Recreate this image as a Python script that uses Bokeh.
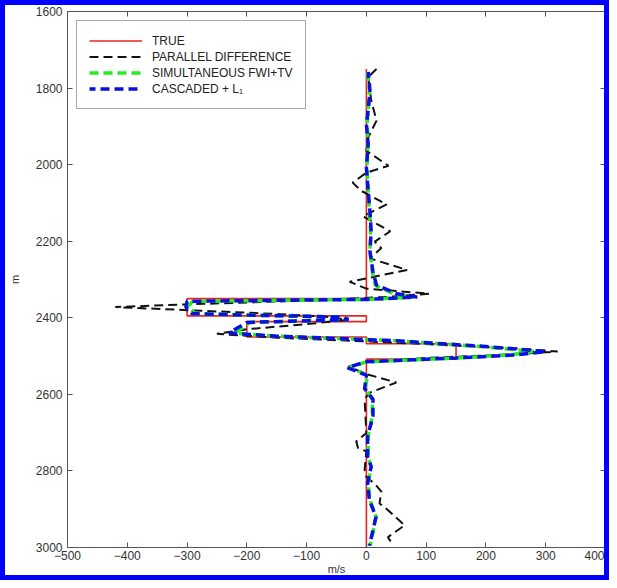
from bokeh.plotting import figure
from bokeh.models import Range1d, LinearAxis, Legend, LegendItem, FixedTicker
from bokeh.embed import file_html
from bokeh.resources import INLINE

x_ticks = [-500, -400, -300, -200, -100, 0, 100, 200, 300, 400]
y_ticks = [1600, 1800, 2000, 2200, 2400, 2600, 2800, 3000]

true_depth = [1750, 2350, 2350, 2395, 2395, 2410, 2410, 2450, 2450, 2468, 2468, 2508, 2508, 3000]
true_vel = [0, 0, -300, -300, 0, 0, -200, -200, 0, 0, 150, 150, 0, 0]

pd_depth = [1750, 1771, 1832, 1885, 1929, 1964, 2003, 2021, 2047, 2069, 2104, 2135, 2174, 2201,
            2218, 2245, 2275, 2288, 2306, 2324, 2337, 2345, 2355, 2365, 2372, 2380, 2390, 2398,
            2406, 2415, 2430, 2442, 2452, 2465, 2480, 2488, 2495, 2505, 2515, 2528, 2547, 2569,
            2596, 2613, 2701, 2723, 2740, 2749, 2797, 2815, 2837, 2854, 2885, 2898, 2942, 2973, 2995]
pd_vel = [17, 3, 8, 17, 3, 0, 37, 0, -23, -8, 34, -6, 40, 14,
          25, 6, 68, 28, -28, 0, 105, 40, -100, -300, -420, -300, -150, -60,
          -35, -90, -200, -250, -150, 50, 250, 320, 250, 100, 0, -30, 0, 50,
          5, -3, 0, -17, -14, 0, -3, 0, 16, 25, 22, 33, 64, 36, 45]

cas_depth = [1758, 1806, 1859, 1894, 1946, 2008, 2069, 2122, 2175, 2227, 2280, 2315, 2337, 2346,
             2352, 2357, 2372, 2389, 2393, 2398, 2405, 2412, 2440, 2448, 2460, 2475, 2488, 2497,
             2505, 2515, 2530, 2550, 2585, 2613, 2657, 2710, 2762, 2789, 2832, 2876, 2920, 2955, 2995]
cas_vel = [3, 6, 3, 0, 3, 0, 3, 6, 8, 6, 11, 17, 51, 85,
           0, -300, -302, -292, -200, -40, -30, -200, -230, -150, 50, 200, 300, 250,
           150, 0, -32, 0, -3, 11, 11, 2, 2, 8, 2, 5, 16, 11, 5]

sim_depth = [1758, 1806, 1859, 1894, 1946, 2008, 2069, 2122, 2175, 2227, 2280, 2315, 2337, 2346,
             2352, 2357, 2372, 2389, 2393, 2398, 2405, 2412, 2440, 2448, 2460, 2475, 2488, 2497,
             2505, 2515, 2530, 2550, 2585, 2613, 2657, 2710, 2762, 2789, 2832, 2876, 2920, 2955, 2995]
sim_vel = [2, 5, 3, 1, 3, 1, 3, 5, 7, 6, 10, 15, 45, 80,
           0, -290, -300, -285, -195, -40, -30, -195, -220, -150, 50, 190, 280, 240,
           150, 0, -28, 2, -2, 10, 10, 3, 3, 8, 3, 6, 16, 12, 6]

FONT = "Liberation Sans"
AX = "#555555"
TXT = "#333333"

p = figure(width=609, height=580, x_range=Range1d(-500, 400), y_range=Range1d(3000, 1600),
           output_backend="svg", toolbar_location=None,
           x_axis_label="m/s", y_axis_label="m")
p.styles = {"border": "5px solid #0000ff"}
p.min_border_left = 59
p.min_border_right = 9
p.min_border_top = 6
p.min_border_bottom = 38
p.xgrid.visible = False
p.ygrid.visible = False
p.outline_line_color = AX
p.background_fill_color = "white"
p.border_fill_color = "white"

p.xaxis.ticker = FixedTicker(ticks=x_ticks)
p.yaxis.ticker = FixedTicker(ticks=y_ticks)
for ax in [p.xaxis[0], p.yaxis[0]]:
    ax.major_tick_in = 5
    ax.major_tick_out = 0
    ax.minor_tick_in = 0
    ax.minor_tick_out = 0
    ax.axis_line_color = AX
    ax.major_tick_line_color = AX
    ax.major_label_text_font = FONT
    ax.major_label_text_font_size = "12px"
    ax.major_label_text_color = TXT
    ax.axis_label_text_font = FONT
    ax.axis_label_text_font_style = "normal"
    ax.axis_label_text_color = TXT
    ax.axis_label_text_font_size = "11px"
p.xaxis[0].major_label_standoff = 3
p.xaxis[0].axis_label_standoff = 0
p.yaxis[0].major_label_standoff = 5
p.yaxis[0].axis_label_standoff = 12

top = LinearAxis(ticker=FixedTicker(ticks=x_ticks),
                 major_label_overrides={t: "" for t in x_ticks},
                 major_tick_in=5, major_tick_out=0, minor_tick_in=0, minor_tick_out=0,
                 axis_line_color=AX, major_tick_line_color=AX, major_label_standoff=0)
right = LinearAxis(ticker=FixedTicker(ticks=y_ticks),
                   major_label_overrides={t: "" for t in y_ticks},
                   major_tick_in=5, major_tick_out=0, minor_tick_in=0, minor_tick_out=0,
                   axis_line_color=AX, major_tick_line_color=AX, major_label_standoff=0)
p.add_layout(top, "above")
p.add_layout(right, "right")

r_true = p.line(true_vel, true_depth, line_color="#ee2222", line_width=1.6)
r_pd = p.line(pd_vel, pd_depth, line_color="#111111", line_width=2, line_dash="9 5")
r_sim = p.line(sim_vel, sim_depth, line_color="#22ee22", line_width=3.5, line_dash="9 5")
r_cas = p.line(cas_vel, cas_depth, line_color="#0a10e0", line_width=3.5, line_dash="9 5",
               line_dash_offset=3)

legend = Legend(items=[
    LegendItem(label="TRUE", renderers=[r_true]),
    LegendItem(label="PARALLEL DIFFERENCE", renderers=[r_pd]),
    LegendItem(label="SIMULTANEOUS FWI+TV", renderers=[r_sim]),
    LegendItem(label="CASCADED + L\u2081", renderers=[r_cas]),
], location="top_left")
legend.border_line_color = AX
legend.border_line_width = 1
legend.label_text_font = FONT
legend.label_text_font_size = "12px"
legend.label_text_color = "#222222"
legend.glyph_width = 53
legend.glyph_height = 15
legend.label_height = 15
legend.label_standoff = 10
legend.padding = 12
legend.spacing = 1
legend.margin = 9
legend.background_fill_alpha = 1
p.add_layout(legend)

open("out.html", "w").write(file_html(p, INLINE))
